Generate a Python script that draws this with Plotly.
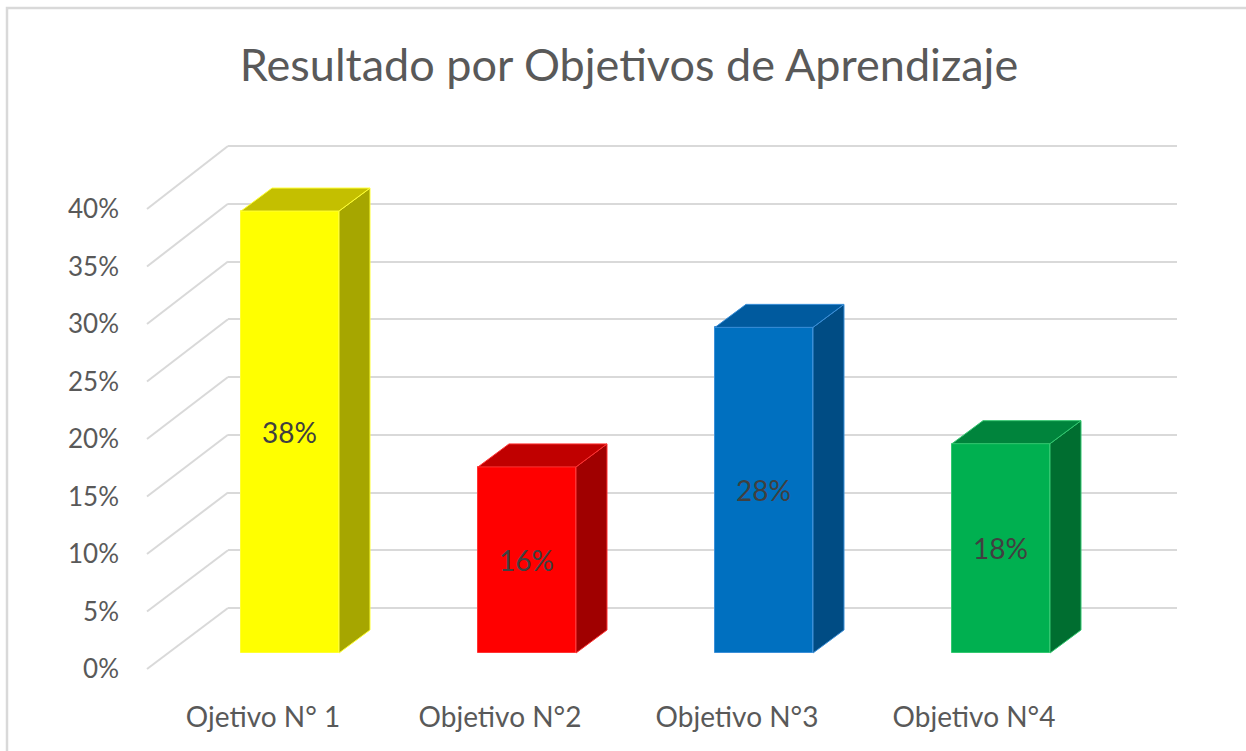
import plotly.graph_objects as go

# ---------------- data ----------------
categories = ["Ojetivo N° 1", "Objetivo N°2", "Objetivo N°3", "Objetivo N°4"]
values = [0.38, 0.16, 0.28, 0.18]
tick_values = [0.00, 0.05, 0.10, 0.15, 0.20, 0.25, 0.30, 0.35, 0.40]
title_text = "Resultado por Objetivos de Aprendizaje"

front_colors = ["#FFFF00", "#FF0000", "#0070C0", "#00B050"]
edge_colors = ["#FFFF33", "#FF3333", "#3B8FD8", "#33C870"]
top_colors = ["#C4BF00", "#C00000", "#005A9E", "#00843C"]
side_colors = ["#A6A600", "#A00000", "#004C84", "#006E30"]

# ---------------- geometry (pixels) ----------------
W, H = 1246, 751
PL, PR, PT, PB = 60, 1177, 130, 690          # paper area / plot area bounds
X_LEFT = 228                                  # back wall left edge
CAT0, CAT_STEP = 290, 237                     # front-face centre of first category, spacing
BAR_W_PX = 98
DEPTH_DX, DEPTH_DY = 31, 23                   # bar depth in px
FRONT_X = 147                                 # front edge of floor
BAR_ZERO, BAR_SCALE = 653, 1163               # bar front: px of 0 and px per unit
WALL_ZERO, WALL_SCALE = 608, 1155             # back wall
LAB_ZERO, LAB_SCALE = 669, 1150               # front edge / tick labels
GRID = "#D9D9D9"
TXT = "#595959"
FONT = "Lato, Open Sans, sans-serif"

plot_h = PB - PT
paper_w = PR - PL


def yr(zero, scale):
    return [(zero - PB) / scale, (zero - PT) / scale]


def px_to_paper_x(p):
    return (p - PL) / paper_w


def px_to_paper_y(p):
    return (PB - p) / plot_h


xs = list(range(len(categories)))
bw = BAR_W_PX / CAT_STEP
dxu = DEPTH_DX / CAT_STEP
dyv = DEPTH_DY / BAR_SCALE

fig = go.Figure()

# front faces
fig.add_trace(go.Bar(
    x=xs, y=values, width=bw,
    marker=dict(color=front_colors, line=dict(color=edge_colors, width=1)),
    text=[f"{v:.0%}" for v in values], textposition="inside",
    insidetextanchor="middle", textangle=0, constraintext="none",
    textfont=dict(family=FONT, size=28, color="#404040"),
    hoverinfo="skip", showlegend=False,
))

# side and top faces
for x, v, tc, sc, ec in zip(xs, values, top_colors, side_colors, edge_colors):
    xl, xr = x - bw / 2, x + bw / 2
    fig.add_trace(go.Scatter(
        x=[xr, xr + dxu, xr + dxu, xr, xr], y=[0, dyv, v + dyv, v, 0],
        fill="toself", fillcolor=sc, mode="lines", line=dict(color=ec, width=1),
        hoverinfo="skip", showlegend=False,
    ))
    fig.add_trace(go.Scatter(
        x=[xl, xr, xr + dxu, xl + dxu, xl], y=[v, v, v + dyv, v + dyv, v],
        fill="toself", fillcolor=tc, mode="lines", line=dict(color=ec, width=1),
        hoverinfo="skip", showlegend=False,
    ))

# invisible traces to activate the overlay axes
fig.add_trace(go.Scatter(x=[None], y=[None], yaxis="y2", showlegend=False, hoverinfo="skip"))
fig.add_trace(go.Scatter(x=[None], y=[None], yaxis="y3", showlegend=False, hoverinfo="skip"))

# floor/side-wall diagonals
shapes = []
for t in tick_values:
    shapes.append(dict(
        type="line", xref="paper", yref="paper",
        x0=px_to_paper_x(FRONT_X), y0=px_to_paper_y(LAB_ZERO - LAB_SCALE * t),
        x1=px_to_paper_x(X_LEFT), y1=px_to_paper_y(WALL_ZERO - WALL_SCALE * t),
        line=dict(color=GRID, width=2), layer="below",
    ))
# chart border
shapes.append(dict(
    type="rect", xref="paper", yref="paper",
    x0=px_to_paper_x(7), y0=px_to_paper_y(8), x1=px_to_paper_x(W + 20), y1=px_to_paper_y(H + 20),
    line=dict(color=GRID, width=2.5), fillcolor="rgba(0,0,0,0)", layer="below",
))

fig.update_layout(
    width=W, height=H, autosize=False,
    margin=dict(l=PL, r=W - PR, t=PT, b=H - PB, pad=0),
    paper_bgcolor="white", plot_bgcolor="rgba(0,0,0,0)",
    title=dict(text=title_text, x=629 / W, y=1 - 65 / H, xanchor="center", yanchor="middle",
               xref="container", yref="container",
               font=dict(family=FONT, size=45, color=TXT)),
    xaxis=dict(domain=[px_to_paper_x(X_LEFT), 1],
               range=[(X_LEFT - CAT0) / CAT_STEP, (PR - CAT0) / CAT_STEP],
               tickvals=xs, ticktext=categories, ticks="", showgrid=False, zeroline=False,
               showline=False, ticklabelshift=-27, ticklabelstandoff=8,
               tickfont=dict(family=FONT, size=28, color=TXT)),
    yaxis=dict(range=yr(BAR_ZERO, BAR_SCALE), showgrid=False, zeroline=False,
               showticklabels=False, showline=False),
    yaxis2=dict(overlaying="y", range=yr(WALL_ZERO, WALL_SCALE), tickvals=tick_values,
                showgrid=True, gridcolor=GRID, gridwidth=2, zeroline=False,
                showticklabels=False, showline=False),
    yaxis3=dict(overlaying="y", anchor="free", side="left", position=px_to_paper_x(119),
                range=yr(LAB_ZERO, LAB_SCALE), tickvals=tick_values, tickformat=".0%",
                showgrid=False, zeroline=False, showline=False, ticks="",
                tickfont=dict(family=FONT, size=26, color=TXT)),
    bargap=0,
)
fig.update_layout(shapes=shapes)

fig.write_html("out.html", config={"displayModeBar": False},
               post_script="document.body.style.margin='0';")
